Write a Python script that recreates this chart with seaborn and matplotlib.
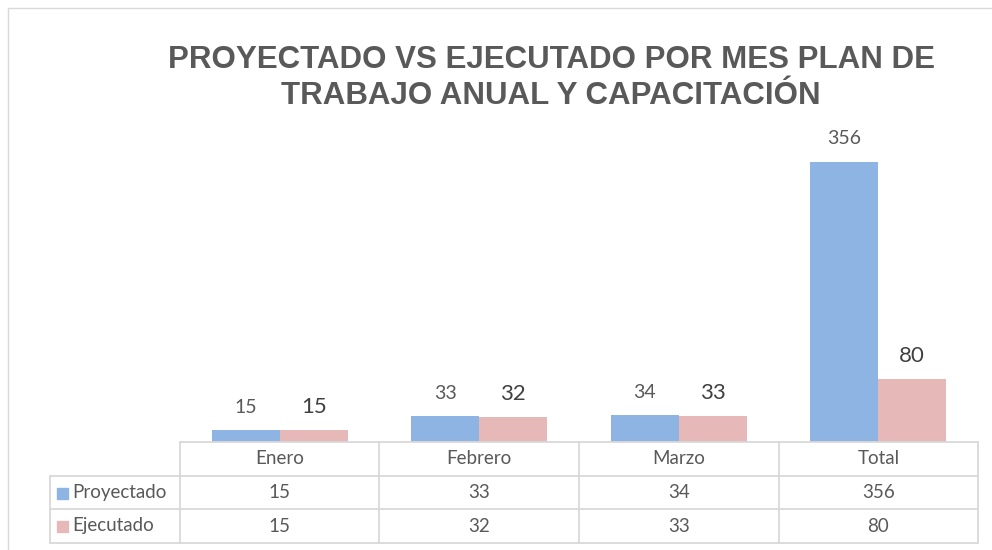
import matplotlib
matplotlib.use("Agg")
import matplotlib.pyplot as plt
import seaborn as sns
import pandas as pd
from matplotlib.patches import Rectangle
from matplotlib.lines import Line2D

categories = ["Enero", "Febrero", "Marzo", "Total"]
series_names = ["Proyectado", "Ejecutado"]
proyectado = [15, 33, 34, 356]
ejecutado = [15, 32, 33, 80]
title = "PROYECTADO VS EJECUTADO POR MES PLAN DE\nTRABAJO ANUAL Y CAPACITACIÓN"

colors = ["#8EB4E3", "#E6B9B8"]
text_col = "#595959"
grid_col = "#D9D9D9"

df = pd.DataFrame({
    "Mes": categories * 2,
    "Serie": [series_names[0]] * 4 + [series_names[1]] * 4,
    "Valor": proyectado + ejecutado,
})

sns.set_theme(style="white")
plt.rcParams["font.family"] = ["Lato", "DejaVu Sans"]

W, H = 992, 550
fig = plt.figure(figsize=(W / 100, H / 100), dpi=100)

def fx(px):
    return px / W

def fy(py):
    return 1 - py / H

# chart border
fig.add_artist(Line2D([fx(8), fx(8)], [fy(8), fy(550)], color=grid_col, lw=1))
fig.add_artist(Line2D([fx(8), fx(992)], [fy(8), fy(8)], color=grid_col, lw=1))

ax_l, ax_r, ax_t, ax_b = 180, 978, 127, 442
ax = fig.add_axes([fx(ax_l), fy(ax_b), (ax_r - ax_l) / W, (ax_b - ax_t) / H])

sns.barplot(data=df, x="Mes", y="Valor", hue="Serie", palette=colors,
            width=0.68, gap=0, ax=ax, legend=False, saturation=1, linewidth=0)
ax.set_xlim(-0.5, 3.5)
ax.set_ylim(0, 400)
ax.axis("off")

# data labels
for i, cont in enumerate(ax.containers):
    fs = 14 if i == 0 else 16
    for bar, v in zip(cont, [proyectado, ejecutado][i]):
        ax.annotate(str(v), (bar.get_x() + bar.get_width() / 2, bar.get_height()),
                    xytext=(0, 16.5), textcoords="offset points", ha="center",
                    va="center", fontsize=fs, color=text_col if i == 0 else "#404040")

# data table
rows_y = [442, 476, 509, 543]
col_x = [180, 379, 579, 779, 978]
lw = 1.3
for x in col_x:
    fig.add_artist(Line2D([fx(x), fx(x)], [fy(442), fy(543)], color=grid_col, lw=lw))
fig.add_artist(Line2D([fx(50), fx(50)], [fy(476), fy(543)], color=grid_col, lw=lw))
fig.add_artist(Line2D([fx(180), fx(978)], [fy(442), fy(442)], color=grid_col, lw=lw))
for y in rows_y[1:]:
    fig.add_artist(Line2D([fx(50), fx(978)], [fy(y), fy(y)], color=grid_col, lw=lw))

tfs = 13.5
for j, c in enumerate(categories):
    cx = (col_x[j] + col_x[j + 1]) / 2
    fig.text(fx(cx), fy((rows_y[0] + rows_y[1]) / 2), c, ha="center", va="center",
             fontsize=tfs, color=text_col)
    for r, vals in enumerate([proyectado, ejecutado]):
        fig.text(fx(cx), fy((rows_y[r + 1] + rows_y[r + 2]) / 2), str(vals[j]),
                 ha="center", va="center", fontsize=tfs, color=text_col)

for r, name in enumerate(series_names):
    cy = (rows_y[r + 1] + rows_y[r + 2]) / 2
    fig.add_artist(Rectangle((fx(57), fy(cy + 6)), 11 / W, 11 / H, color=colors[r]))
    fig.text(fx(72), fy(cy), name, ha="left", va="center", fontsize=tfs, color=text_col)

# title
fig.text(fx(551), fy(78), title, ha="center", va="center", fontsize=22.5,
         fontweight="bold", color=text_col, linespacing=1.25,
         family=["Liberation Sans Narrow", "Liberation Sans", "DejaVu Sans"])

fig.savefig("out.png", dpi=100)
